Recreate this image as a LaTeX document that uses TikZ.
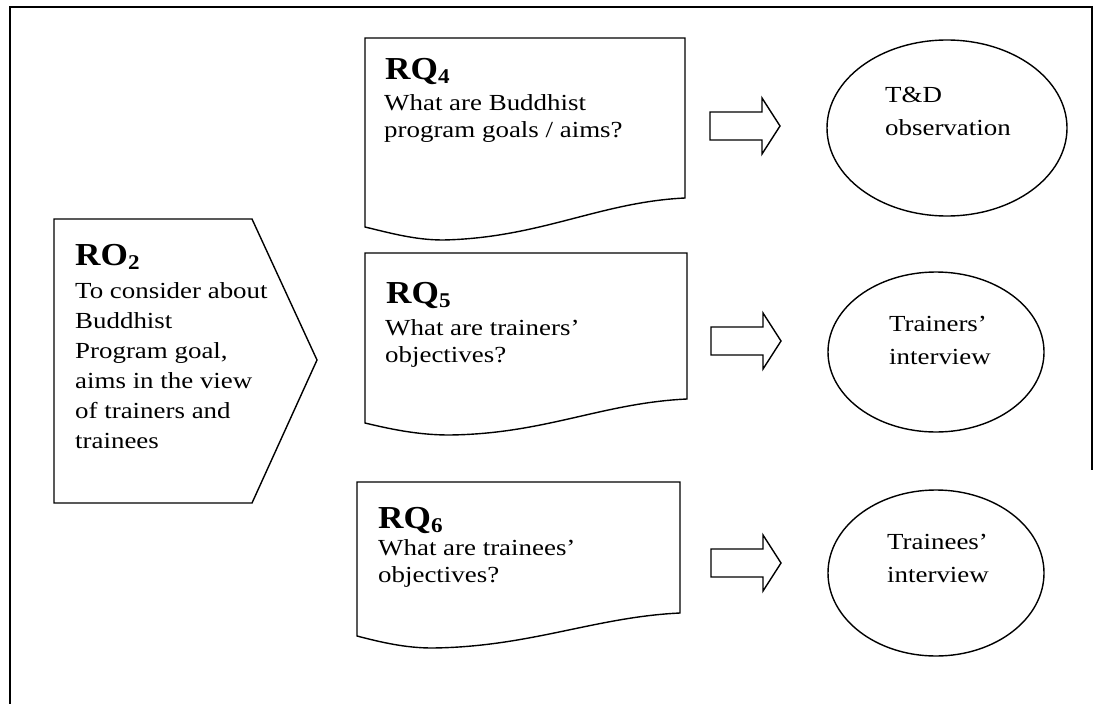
\documentclass[tikz,border=0pt]{standalone}
\usepackage{fontspec}
\setmainfont{Liberation Serif}
\usepackage{graphicx}
\usetikzlibrary{shapes.geometric}
\newcommand\hx[1]{\scalebox{1.17}[1]{#1}}
\newcommand\hhx[1]{\scalebox{1.1}[1]{#1}}
\newcommand\headtxt[2]{\hhx{\fontsize{32}{32}\selectfont\bfseries #1\raisebox{-4pt}{\fontsize{21}{21}\selectfont\bfseries #2}}}
\newcommand\lines[1]{\hx{\begin{tabular}[t]{@{}l@{}}#1\end{tabular}}}
\tikzset{
  shapeline/.style={draw=black, line width=1.4pt, line join=miter},
  framel/.style={draw=black, line width=1.6pt},
  txt/.style={anchor=base west, inner sep=0pt, font=\fontsize{23}{27}\selectfont},
  rotxt/.style={anchor=base west, inner sep=0pt, font=\fontsize{23}{30}\selectfont},
  eltxt/.style={anchor=base west, inner sep=0pt, font=\fontsize{23}{33}\selectfont},
  headn/.style={anchor=base west, inner sep=0pt},
  oval/.style={ellipse, draw=black, line width=1.4pt, inner sep=0pt},
  barrow/.pic={\draw[shapeline] (0,-14) -- (52,-14) -- (52,-28) -- (70,0) -- (52,28) -- (52,14) -- (0,14) -- cycle;}
}
\begin{document}
\begin{tikzpicture}[x=1pt,y=-1pt]
\useasboundingbox (0,0) rectangle (1095,704);
% outer frame (open at bottom)
\coordinate (fbl) at (10,704);
\coordinate (ftl) at (10,7);
\coordinate (ftr) at (1092,7);
\coordinate (fbr) at (1092,470);
\draw[framel] (fbl) -- (ftl) -- (ftr) -- (fbr);

% RO2 pentagon
\coordinate (p1) at (54,219);
\coordinate (p2) at (252,219);
\coordinate (p3) at (317,360);
\coordinate (p4) at (252,503);
\coordinate (p5) at (54,503);
\draw[shapeline] (p1) -- (p2) -- (p3) -- (p4) -- (p5) -- cycle;
\node[headn] (o2h) at (75,265) {\headtxt{RO}{2}};
\node[rotxt] (o2t) at (75,298) {\lines{To consider about\\Buddhist\\Program goal,\\aims in the view\\of trainers and\\trainees}};

% RQ4 document box
\draw[shapeline] (365,227) -- (365,38) -- (685,38) -- (685,198)
  .. controls (600,202) and (540,238) .. (443,240)
  .. controls (415,240) and (390,233) .. (365,227) -- cycle;
\node[headn] (q4h) at (385,79) {\headtxt{RQ}{4}};
\node[txt] (q4t) at (384,110) {\lines{What are Buddhist\\program goals / aims?}};

% RQ5 document box
\draw[shapeline] (365,423) -- (365,253) -- (687,253) -- (687,399)
  .. controls (602,403) and (545,434) .. (449,435)
  .. controls (418,435) and (390,429) .. (365,423) -- cycle;
\node[headn] (q5h) at (386,303) {\headtxt{RQ}{5}};
\node[txt] (q5t) at (385,335) {\lines{What are trainers’\\objectives?}};

% RQ6 document box
\draw[shapeline] (357,636) -- (357,482) -- (680,482) -- (680,613)
  .. controls (595,617) and (530,647) .. (432,648)
  .. controls (405,648) and (380,642) .. (357,636) -- cycle;
\node[headn] (q6h) at (378,528) {\headtxt{RQ}{6}};
\node[txt] (q6t) at (378,555) {\lines{What are trainees’\\objectives?}};

% block arrows
\pic (a1) at (710,126) {barrow};
\pic (a2) at (711,341) {barrow};
\pic (a3) at (711,563) {barrow};

% ellipses
\node[oval, minimum width=240pt, minimum height=176pt] (e1) at (947,128) {};
\node[eltxt] (e1t) at (885,102) {\lines{T\&D\\observation}};
\node[oval, minimum width=216pt, minimum height=160pt] (e2) at (936,352) {};
\node[eltxt] (e2t) at (889,331) {\lines{Trainers’\\interview}};
\node[oval, minimum width=216pt, minimum height=166pt] (e3) at (936,573) {};
\node[eltxt] (e3t) at (887,549) {\lines{Trainees’\\interview}};
\end{tikzpicture}
\end{document}
